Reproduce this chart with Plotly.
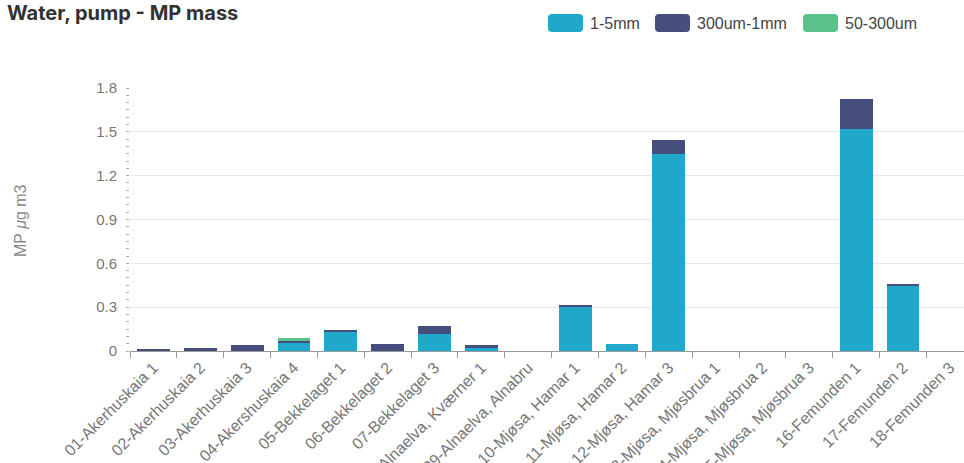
import plotly.graph_objects as go

# Sampling stations
stations = [
    "01-Akerhuskaia 1", "02-Akerhuskaia 2", "03-Akerhuskaia 3", "04-Akershuskaia 4",
    "05-Bekkelaget 1", "06-Bekkelaget 2", "07-Bekkelaget 3", "08-Alnaelva, Kværner 1",
    "09-Alnaelva, Alnabru", "10-Mjøsa, Hamar 1", "11-Mjøsa, Hamar 2", "12-Mjøsa, Hamar 3",
    "13-Mjøsa, Mjøsbrua 1", "14-Mjøsa, Mjøsbrua 2", "15-Mjøsa, Mjøsbrua 3",
    "16-Femunden 1", "17-Femunden 2", "18-Femunden 3",
]

# MP mass per size fraction (µg/m3)
size_1_5mm = [0, 0, 0, 0.055, 0.136, 0, 0.119, 0.023, 0, 0.303, 0.048, 1.346,
              0, 0, 0, 1.522, 0.448, 0]
size_300um_1mm = [0.012, 0.023, 0.041, 0.014, 0.004, 0.05, 0.05, 0.016, 0, 0.007, 0, 0.095,
                  0, 0, 0, 0.2, 0.012, 0]
size_50_300um = [0, 0, 0, 0.023, 0, 0, 0, 0, 0, 0, 0, 0,
                 0, 0, 0, 0, 0, 0]

series_names = ["1-5mm", "300um-1mm", "50-300um"]
series_values = [size_1_5mm, size_300um_1mm, size_50_300um]
series_colors = ["#1FA8C9", "#454E7C", "#5AC189"]

y_ticks = [0, 0.3, 0.6, 0.9, 1.2, 1.5, 1.8]
y_tick_text = ["0", "0.3", "0.6", "0.9", "1.2", "1.5", "1.8"]

TITLE_FONT = "Inter, Roboto, sans-serif"
FONT = "'Liberation Sans', Arial, Helvetica, sans-serif"
W, H = 964, 463
ML, MR, MT, MB = 130, 0, 88, 112
PW, PH = W - ML - MR, H - MT - MB

fig = go.Figure()
for name, vals, col in zip(series_names, series_values, series_colors):
    fig.add_trace(go.Bar(
        x=stations, y=vals, name=name,
        marker=dict(color=col, line=dict(width=0)),
        showlegend=False,
    ))


def px_x(px):
    return (px - ML) / PW


def px_y(py):
    return (H - MB - py) / PH


def rounded_rect(x0, y0, x1, y1, r):
    # pixel box -> paper-coordinate path with rounded corners
    rx, ry = r / PW, r / PH
    X0, X1 = px_x(x0), px_x(x1)
    Y0, Y1 = px_y(y1), px_y(y0)  # bottom, top in paper coords
    return (f"M {X0+rx},{Y0} L {X1-rx},{Y0} Q {X1},{Y0} {X1},{Y0+ry} "
            f"L {X1},{Y1-ry} Q {X1},{Y1} {X1-rx},{Y1} L {X0+rx},{Y1} "
            f"Q {X0},{Y1} {X0},{Y1-ry} L {X0},{Y0+ry} Q {X0},{Y0} {X0+rx},{Y0} Z")


# Legend across the top right
legend_x = [548, 655, 803]
shapes, annotations = [], []
for lx, name, col in zip(legend_x, series_names, series_colors):
    shapes.append(dict(type="path", xref="paper", yref="paper",
                       path=rounded_rect(lx, 14, lx + 35, 32, 4),
                       fillcolor=col, line=dict(width=0)))
    annotations.append(dict(x=px_x(lx + 40), y=px_y(23), xref="paper", yref="paper",
                            text=name, showarrow=False, xanchor="left", yanchor="middle",
                            font=dict(family=FONT, size=16, color="#444444")))

# Y-axis title
annotations.append(dict(x=px_x(20), y=px_y(220), xref="paper", yref="paper",
                        text="MP <i>μ</i>g m3", textangle=-90, showarrow=False,
                        xanchor="center", yanchor="middle",
                        font=dict(family=FONT, size=16, color="#888888")))

fig.update_layout(
    width=W, height=H,
    margin=dict(l=ML, r=MR, t=MT, b=MB, autoexpand=False),
    barmode="stack", bargap=0.3,
    plot_bgcolor="white", paper_bgcolor="white",
    font=dict(family=FONT, color="#666666"),
    title=dict(text="<b>Water, pump - MP mass</b>", x=7 / W, xanchor="left",
               y=1 - 13 / H, yanchor="middle", xref="container", yref="container",
               font=dict(family=TITLE_FONT, size=20, color="#323232")),
    shapes=shapes, annotations=annotations,
    xaxis=dict(
        range=[-0.5, 17.3], tickangle=-45, automargin=False,
        showline=True, linecolor="#9a9a9a", linewidth=1,
        ticks="outside", tickson="boundaries", ticklen=6, tickcolor="#9a9a9a",
        tickfont=dict(family=FONT, size=16, color="#777777"),
        showgrid=False,
    ),
    yaxis=dict(
        range=[0, 1.8], tickvals=y_ticks, ticktext=y_tick_text, automargin=False,
        showline=False, zeroline=False,
        showgrid=True, gridcolor="#e6e6e6", gridwidth=1,
        ticks="outside", ticklen=3, tickcolor="#aaaaaa", ticklabelstandoff=6,
        tickfont=dict(family=FONT, size=15, color="#777777"),
        minor=dict(dtick=0.05, ticks="outside", ticklen=3, tickcolor="#aaaaaa",
                   showgrid=False),
    ),
)

fig.write_html("out.html")
